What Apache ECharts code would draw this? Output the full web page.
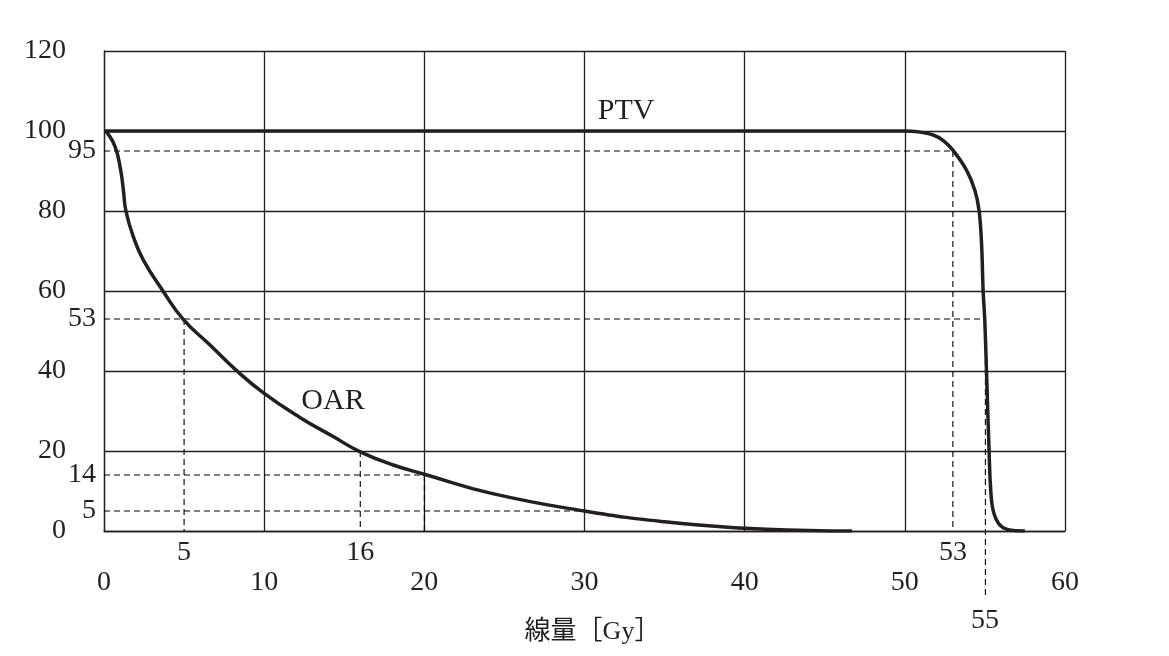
<!DOCTYPE html>
<html>
<head>
<meta charset="UTF-8">
<title>DVH</title>
<script src="https://cdn.jsdelivr.net/npm/echarts@6/dist/echarts.min.js"></script>
<style>
  html, body { margin: 0; padding: 0; background: #fff; }
  #chart { width: 1169px; height: 656px; }
</style>
</head>
<body>
<div id="chart"></div>
<script>
// axis ticks
var xTicks = [0, 10, 20, 30, 40, 50, 60];
var yTicks = [0, 20, 40, 60, 80, 100, 120];
// extra marked values
var yMarks = [95, 53, 14, 5];
var xMarks = [5, 16, 53];
var xMarksLow = [55];

// curves [dose Gy, volume %]
var ptvData = [[0, 100], [50, 100], [50.8, 99.8], [51.77, 99], [52.4, 97.6], [53, 95.2], [53.85, 90.2],
  [54.37, 85.2], [54.64, 80], [54.79, 71.9], [54.89, 59.9], [54.99, 52.8], [55.1, 39.9], [55.26, 19.9],
  [55.35, 11.1], [55.51, 5.2], [55.93, 1.5], [56.76, 0.1], [57.5, 0]];
var oarData = [[0, 100], [0.17, 99.7], [0.69, 96.1], [1.04, 90.2], [1.21, 85.2], [1.37, 80], [1.83, 73.6],
  [2.45, 67.8], [3.7, 59.9], [4.95, 52.9], [6.62, 46.5], [8.28, 40.1], [10, 34.4], [12.23, 28.4],
  [14.31, 23.6], [16, 19.8], [18.06, 16.5], [20, 14.2], [24.2, 9.4], [30, 5], [35, 2.3], [40, 0.7],
  [44, 0.15], [46.7, 0]];

// dashed guide segments
var guides = [
  [[0, 95], [53, 95]],
  [[53, 95], [53, 0]],
  [[0, 53], [54.9, 53]],
  [[5, 53], [5, 0]],
  [[55.03, 53], [55.03, -17]],
  [[0, 14], [20, 14]],
  [[16, 20], [16, 0]],
  [[20, 14], [20, 0]],
  [[0, 5], [30, 5]]
];

// curve names and where they are written
var curveLabels = [[32.6, 105, 'PTV'], [14.3, 32.4, 'OAR']];

var ink = '#231f20';
var serif = "'Liberation Serif', 'Noto Sans CJK JP', serif";

var series = [];
guides.forEach(function(seg) {
  series.push({
    type: 'line', data: seg, symbol: 'none', silent: true, clip: false, z: 1,
    lineStyle: { color: '#000', width: 1.1, type: [6, 4] }
  });
});
series.push({
  name: 'PTV', type: 'line', data: ptvData, symbol: 'none', smooth: 0.35, z: 3,
  lineStyle: { color: ink, width: 3.5 }
});
series.push({
  name: 'OAR', type: 'line', data: oarData, symbol: 'none', smooth: 0.5, z: 3,
  lineStyle: { color: ink, width: 3.5 }
});
series.push({
  type: 'scatter', data: curveLabels, symbolSize: 0, silent: true, z: 4,
  itemStyle: { opacity: 1 },
  label: {
    show: true, position: 'inside', color: ink, fontFamily: serif, fontSize: 30,
    formatter: function(p) { return p.value[2]; }
  }
});

var chart = echarts.init(document.getElementById('chart'));
chart.setOption({
  animation: false,
  backgroundColor: '#fff',
  grid: { left: 104, right: 104, top: 51, bottom: 125, containLabel: false },
  xAxis: [{
    type: 'value', min: xTicks[0], max: xTicks[xTicks.length - 1], interval: 10, position: 'bottom',
    name: '線量［Gy］', nameLocation: 'middle', nameGap: 88,
    nameTextStyle: { color: ink, fontFamily: serif, fontSize: 26, padding: [0, 0, 0, 16] },
    axisLine: { show: true, lineStyle: { color: ink, width: 1.3 } },
    axisTick: { show: false },
    splitLine: { show: true, lineStyle: { color: ink, width: 1.3 } },
    axisLabel: { color: ink, fontFamily: serif, fontSize: 28, margin: 38 }
  }, {
    type: 'value', min: 0, max: 60, position: 'bottom',
    axisLine: { show: false }, axisTick: { show: false }, splitLine: { show: false },
    axisLabel: { color: ink, fontFamily: serif, fontSize: 28, margin: 8, customValues: xMarks }
  }, {
    type: 'value', min: 0, max: 60, position: 'bottom',
    axisLine: { show: false }, axisTick: { show: false }, splitLine: { show: false },
    axisLabel: { color: ink, fontFamily: serif, fontSize: 28, margin: 76, customValues: xMarksLow }
  }],
  yAxis: [{
    type: 'value', min: yTicks[0], max: yTicks[yTicks.length - 1], interval: 20, position: 'left',
    axisLine: { show: true, lineStyle: { color: ink, width: 1.3 } },
    axisTick: { show: false },
    splitLine: { show: true, lineStyle: { color: ink, width: 1.3 } },
    axisLabel: { color: ink, fontFamily: serif, fontSize: 28, margin: 38 }
  }, {
    type: 'value', min: 0, max: 120, position: 'left',
    axisLine: { show: false }, axisTick: { show: false }, splitLine: { show: false },
    axisLabel: { color: ink, fontFamily: serif, fontSize: 28, margin: 8, customValues: yMarks }
  }],
  series: series
});
</script>
</body>
</html>
